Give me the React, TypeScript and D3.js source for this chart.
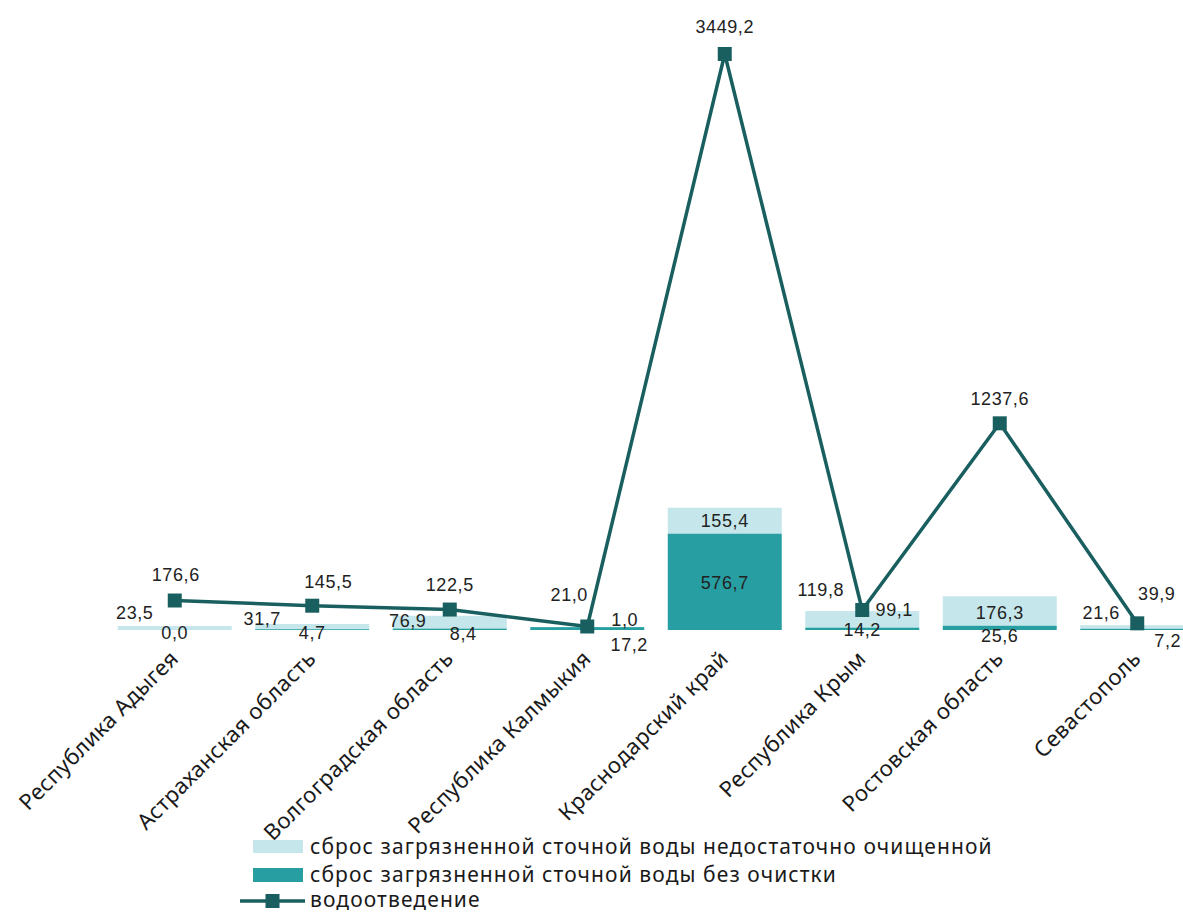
import React from "react";
import * as d3 from "d3";

const categories = [
  "Республика Адыгея",
  "Астраханская область",
  "Волгоградская область",
  "Республика Калмыкия",
  "Краснодарский край",
  "Республика Крым",
  "Ростовская область",
  "Севастополь",
];
const insufficientlyTreated = [23.5, 31.7, 76.9, 1.0, 155.4, 99.1, 176.3, 21.6];
const untreated = [0.0, 4.7, 8.4, 17.2, 576.7, 14.2, 25.6, 7.2];
const drainage = [176.6, 145.5, 122.5, 21.0, 3449.2, 119.8, 1237.6, 39.9];
const legendLabels = [
  "сброс загрязненной сточной воды недостаточно очищенной",
  "сброс загрязненной сточной воды без очистки",
  "водоотведение",
];

// label placement offsets (dx, dy) relative to segment middle / marker
const lightLabelOffsets = [[-40, -16], [-50, -8], [-42, -2], [37.5, -8], [0, 0], [32, -10], [0, 1], [-36, -14.5]];
const darkLabelOffsets = [[0, 2], [0, 3], [13.5, 4], [42, 15.5], [0, 1], [0, 1], [0, 8], [30.5, 11.6]];
const lineLabelOffsets = [[1, -26.5], [16, -24], [0, -25.5], [-18, -32], [0, -27], [-41.5, -20.5], [0, -25], [19.5, -29.5]];

const W = 1183;
const H = 913;
const LIGHT = "#c5e6eb";
const DARK = "#279fa2";
const LINE = "#1a5f60";
const VALUE_FONT = "'Liberation Sans', Arial, sans-serif";
const CAT_FONT = "'Noto Sans', 'Open Sans', sans-serif";

const fmt = (v: number) => d3.format(".1f")(v).replace(".", ",");

export default function App() {
  const x = d3.scaleBand<string>().domain(categories).range([106, 1206]).paddingInner(0.171).paddingOuter(0.0855);
  const y = d3.scaleLinear().domain([0, 3500]).range([630, 45.5]);
  const cx = (i: number) => (x(categories[i]) as number) + x.bandwidth() / 2;

  const lineGen = d3
    .line<number>()
    .x((_, i) => cx(i))
    .y((d) => y(d));

  const valueText = (key: string, tx: number, ty: number, txt: string) => (
    <text key={key} x={tx} y={ty + 6.5} textAnchor="middle" fontFamily={VALUE_FONT} fontSize={18} letterSpacing={0.6} fill="#222">
      {txt}
    </text>
  );

  const ms = 14;

  return (
    <div style={{ position: "absolute", left: 0, top: 0 }}>
      <svg width={W} height={H} style={{ display: "block", background: "#fff" }}>
        {/* bars */}
        {categories.map((c, i) => {
          const x0 = x(c) as number;
          const bw = x.bandwidth();
          const d0 = untreated[i];
          const l0 = insufficientlyTreated[i];
          return (
            <g key={"bar" + i}>
              <rect x={x0} y={y(d0 + l0)} width={bw} height={y(d0) - y(d0 + l0)} fill={LIGHT} />
              <rect x={x0} y={y(d0)} width={bw} height={y(0) - y(d0)} fill={DARK} />
            </g>
          );
        })}
        {/* line */}
        <path d={lineGen(drainage) as string} fill="none" stroke={LINE} strokeWidth={3.5} strokeLinejoin="round" />
        {drainage.map((v, i) => (
          <rect key={"m" + i} x={cx(i) - ms / 2} y={y(v) - ms / 2} width={ms} height={ms} fill={LINE} />
        ))}
        {/* value labels */}
        {categories.map((c, i) => {
          const d0 = untreated[i];
          const l0 = insufficientlyTreated[i];
          const lm = y(d0 + l0 / 2);
          const dm = y(d0 / 2);
          return (
            <g key={"lab" + i}>
              {valueText("l" + i, cx(i) + lightLabelOffsets[i][0], lm + lightLabelOffsets[i][1], fmt(l0))}
              {valueText("d" + i, cx(i) + darkLabelOffsets[i][0], dm + darkLabelOffsets[i][1], fmt(d0))}
              {valueText("w" + i, cx(i) + lineLabelOffsets[i][0], y(drainage[i]) + lineLabelOffsets[i][1], fmt(drainage[i]))}
            </g>
          );
        })}
        {/* category labels */}
        {categories.map((c, i) => (
          <text
            key={"c" + i}
            transform={`translate(${cx(i) + 5},660) rotate(-45)`}
            textAnchor="end"
            fontFamily={CAT_FONT}
            fontSize={22}
            letterSpacing={0.4}
            fill="#1a1a1a"
          >
            {c}
          </text>
        ))}
        {/* legend */}
        <g>
          <rect x={253} y={840} width={50} height={13} fill={LIGHT} />
          <text x={310} y={854} fontFamily={CAT_FONT} fontSize={21} letterSpacing={1.1} fill="#1a1a1a">
            {legendLabels[0]}
          </text>
          <rect x={253} y={868} width={50} height={14} fill={DARK} />
          <text x={310} y={882} fontFamily={CAT_FONT} fontSize={21} letterSpacing={1.1} fill="#1a1a1a">
            {legendLabels[1]}
          </text>
          <line x1={240} x2={305} y1={901} y2={901} stroke={LINE} strokeWidth={3.5} />
          <rect x={272.5 - 7} y={894} width={14} height={14} fill={LINE} />
          <text x={310} y={907} fontFamily={CAT_FONT} fontSize={21} letterSpacing={1.1} fill="#1a1a1a">
            {legendLabels[2]}
          </text>
        </g>
      </svg>
    </div>
  );
}
